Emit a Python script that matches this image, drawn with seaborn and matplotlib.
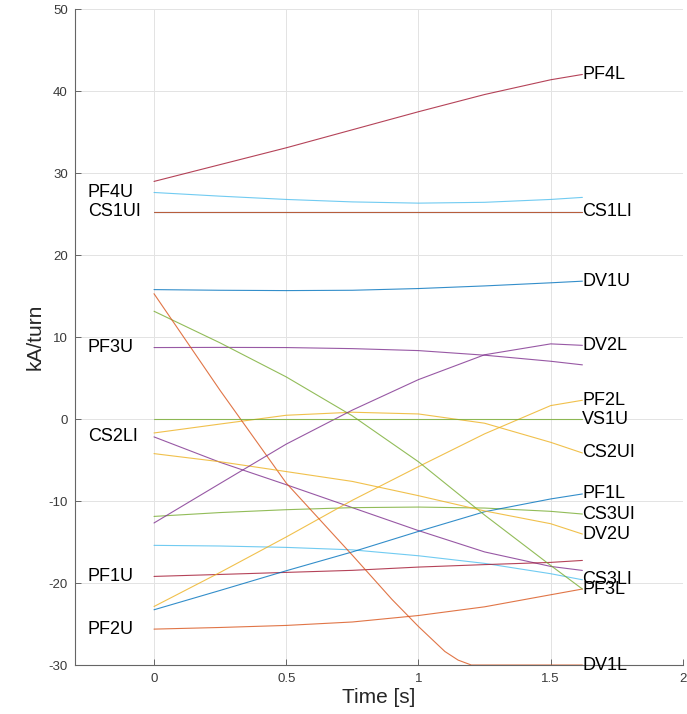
import numpy as np
import pandas as pd
import matplotlib
matplotlib.use("Agg")
import matplotlib.pyplot as plt
import seaborn as sns

# ---- data ----
time = [0.0, 0.25, 0.5, 0.75, 1.0, 1.25, 1.5, 1.62]
time_dv1l = [0.0, 0.25, 0.5, 0.75, 0.9, 1.0, 1.1, 1.15, 1.2, 1.62]

coils = ["CS1UI", "CS1LI", "CS2UI", "CS2LI", "CS3UI", "CS3LI",
         "PF1U", "PF1L", "PF2U", "PF2L", "PF3U", "PF3L", "PF4U", "PF4L",
         "DV1U", "DV1L", "DV2U", "DV2L", "VS1U"]

CS1UI = [25.3, 25.3, 25.3, 25.3, 25.3, 25.3, 25.3, 25.3]
CS1LI = [25.3, 25.3, 25.3, 25.3, 25.3, 25.3, 25.3, 25.3]
CS2UI = [-1.69, -0.6, 0.47, 0.84, 0.63, -0.5, -2.83, -4.13]
CS2LI = [-2.17, -5.27, -8.0, -10.8, -13.6, -16.2, -17.97, -18.46]
CS3UI = [-11.87, -11.4, -11.05, -10.8, -10.73, -10.85, -11.25, -11.58]
CS3LI = [-15.4, -15.48, -15.65, -15.95, -16.67, -17.6, -18.86, -19.6]
PF1U = [-19.19, -18.95, -18.7, -18.45, -18.05, -17.75, -17.48, -17.24]
PF1L = [-23.26, -20.9, -18.5, -16.2, -13.7, -11.3, -9.74, -9.13]
PF2U = [-25.62, -25.42, -25.17, -24.75, -23.96, -22.9, -21.43, -20.73]
PF2L = [-22.86, -18.7, -14.38, -9.9, -5.8, -1.8, 1.65, 2.3]
PF3U = [8.73, 8.75, 8.73, 8.6, 8.36, 7.8, 7.06, 6.62]
PF3L = [13.16, 9.3, 5.15, 0.4, -5.2, -11.7, -17.85, -20.73]
PF4U = [27.65, 27.2, 26.8, 26.5, 26.35, 26.45, 26.8, 27.05]
PF4L = [29.0, 31.05, 33.1, 35.3, 37.5, 39.6, 41.4, 42.05]
DV1U = [15.8, 15.72, 15.68, 15.72, 15.93, 16.25, 16.63, 16.83]
DV1L = [15.3, 3.5, -7.8, -16.6, -22.0, -25.3, -28.35, -29.4, -30.0, -30.0]
DV2U = [-4.21, -5.2, -6.4, -7.6, -9.34, -11.2, -12.76, -14.02]
DV2L = [-12.67, -7.85, -3.05, 1.1, 4.82, 7.85, 9.18, 9.0]
VS1U = [0.0, 0.0, 0.0, 0.0, 0.0, 0.0, 0.0, 0.0]

left_labelled = ["CS1UI", "CS2LI", "PF1U", "PF2U", "PF3U", "PF4U"]

values = {
    "CS1UI": CS1UI, "CS1LI": CS1LI, "CS2UI": CS2UI, "CS2LI": CS2LI,
    "CS3UI": CS3UI, "CS3LI": CS3LI, "PF1U": PF1U, "PF1L": PF1L,
    "PF2U": PF2U, "PF2L": PF2L, "PF3U": PF3U, "PF3L": PF3L,
    "PF4U": PF4U, "PF4L": PF4L, "DV1U": DV1U, "DV1L": DV1L,
    "DV2U": DV2U, "DV2L": DV2L, "VS1U": VS1U,
}

rows = []
for c in coils:
    tt = time_dv1l if c == "DV1L" else time
    for t, v in zip(tt, values[c]):
        rows.append({"t": t, "v": v, "coil": c})
df = pd.DataFrame(rows)

matlab_colors = ["#0072BD", "#D95319", "#EDB120", "#7E2F8E",
                 "#77AC30", "#4DBEEE", "#A2142F"]
palette = {c: matlab_colors[i % 7] for i, c in enumerate(coils)}

# ---- style ----
sns.set_theme(style="white")
plt.rcParams["font.family"] = ["Liberation Sans", "DejaVu Sans"]
plt.rcParams["axes.unicode_minus"] = False

fig = plt.figure(figsize=(6.87, 7.14), dpi=100)
ax = fig.add_axes([0.1087, 0.0686, 0.8853, 0.9184])

sns.lineplot(data=df, x="t", y="v", hue="coil", hue_order=coils,
             palette=palette, estimator=None, sort=False, legend=False,
             linewidth=0.8, alpha=0.8, ax=ax)

for c in coils:
    tt = time_dv1l if c == "DV1L" else time
    vals = values[c]
    if c in left_labelled:
        ax.text(-0.25, vals[0], c, ha="left", va="center",
                fontsize=13, color="black")
    else:
        ax.text(tt[-1], vals[-1], c, ha="left", va="center",
                fontsize=13, color="black")

ax.set_xlim(-0.3, 2)
ax.set_ylim(-30, 50)
ax.set_xticks([0, 0.5, 1, 1.5, 2])
ax.set_xticklabels(["0", "0.5", "1", "1.5", "2"])
ax.set_yticks([-30, -20, -10, 0, 10, 20, 30, 40, 50])
ax.grid(True, color="#e3e3e3", linewidth=0.7)
ax.set_axisbelow(True)
for s in ["top", "right"]:
    ax.spines[s].set_visible(False)
for s in ["left", "bottom"]:
    ax.spines[s].set_color("#666666")
    ax.spines[s].set_linewidth(0.8)
ax.tick_params(axis="both", direction="in", length=4, width=0.7,
               colors="#666666", labelcolor="#3a3a3a", labelsize=9.5,
               bottom=True, left=True)
ax.tick_params(axis="x", pad=6)
ax.tick_params(axis="y", pad=5)
ax.set_xlabel("Time [s]", fontsize=15, color="#262626", labelpad=2)
ax.set_ylabel("kA/turn", fontsize=15, color="#262626", labelpad=3)

fig.savefig("out.png", dpi=100)
